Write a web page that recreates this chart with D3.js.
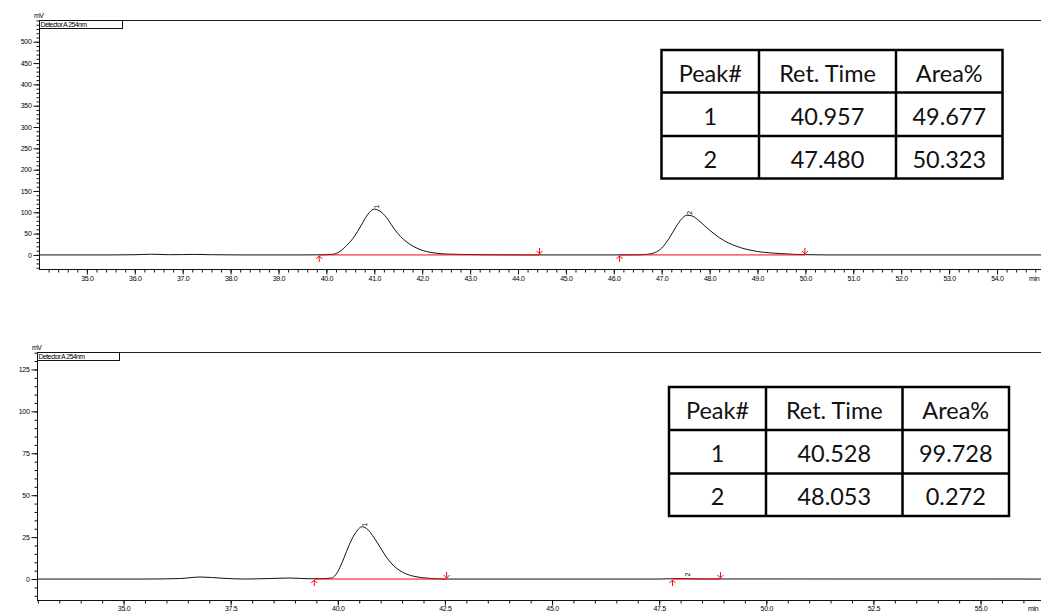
<!DOCTYPE html>
<html><head><meta charset="utf-8">
<script src="https://cdn.jsdelivr.net/npm/d3@7"></script>
<style>
html,body{margin:0;padding:0;background:#fff;overflow:hidden}
svg{display:block}
.tk{font-family:"Liberation Sans",Arial,sans-serif;font-size:7px;fill:#000;letter-spacing:-0.3px}
.tbl{font-family:Lato,"Open Sans",sans-serif;font-size:23.5px;fill:#111}
</style></head>
<body>
<script>
// ---------- DATA ----------
// chromatogram 1 (racemic)
const topTime   = [34.0,35.5,36.0,36.35,36.7,37.0,37.25,37.6,38.2,39.5,39.9,40.14,40.28,40.42,40.55,40.65,40.74,40.81,40.9,41.0,41.1,41.18,41.26,41.35,41.43,41.55,41.68,41.85,42.02,42.2,42.37,42.6,42.79,43.2,44.0,46.0,46.5,46.7,46.85,47.0,47.15,47.3,47.42,47.52,47.62,47.75,47.9,48.1,48.31,48.48,48.65,48.82,49.0,49.25,49.5,49.75,50.0,50.5,55.0];
const topSignal = [0,0,0.5,1.6,0.6,0.8,1.3,0.5,0,0,0.3,1.6,8,22,38,55,72,86,100,107.5,104,97,87,72,59,43,30,18,10,5.5,3,1.8,1.2,0.5,0,0,0.3,1.5,5,16,38,66,85,93,92,83,68,49,33,24,17,12,8,5,3,1.5,0.6,0,0];
const topIntegration = [[39.85,44.45],[46.12,49.99]];
const topYMajor = [0,50,100,150,200,250,300,350,400,450,500];
const topXMajor = [35,36,37,38,39,40,41,42,43,44,45,46,47,48,49,50,51,52,53,54];
const topPeakNo   = ["1","2"];
const topRetTime  = [40.957,47.480];
const topArea     = [49.677,50.323];

// chromatogram 2 (enriched)
const botTime   = [32.98,35.5,36.3,36.8,37.3,37.8,38.4,38.9,39.3,39.6,39.85,39.95,40.05,40.15,40.26,40.4,40.57,40.7,40.85,41.0,41.15,41.3,41.45,41.6,41.8,42.1,42.5,47.5,48.0,48.5,57.2];
const botSignal = [0,0,0.3,1.2,0.5,0,0.3,0.6,0.2,0.2,0.6,2.5,7,13,20,27,31.2,29.5,24.5,18.5,12.5,8,5,3,1.5,0.5,0,0,0.3,0.05,0];
const botIntegration = [[39.45,42.54],[47.81,48.93]];
const botYMajor = [0,25,50,75,100,125];
const botXMajor = [35,37.5,40,42.5,45,47.5,50,52.5,55];
const botPeakNo   = ["1","2"];
const botRetTime  = [40.528,48.053];
const botArea     = [99.728,0.272];

const tableHeader = ["Peak#","Ret. Time","Area%"];
const detectorLabel = "Detector A 254nm";

// ---------- DRAW ----------
const W=1041,H=612;
const svg=d3.select("body").append("svg").attr("width",W).attr("height",H);

function panel(cfg){
  const g=svg.append("g");
  const x=d3.scaleLinear().domain(cfg.xDom).range(cfg.xRange);
  const y=d3.scaleLinear().domain(cfg.yDom).range(cfg.yRange);
  const x0=cfg.xRange[0], yTop=cfg.yRange[1], yBot=cfg.yRange[0];
  g.append("line").attr("x1",x0).attr("x2",W).attr("y1",yTop+0.5).attr("y2",yTop+0.5).attr("stroke","#222").attr("stroke-width",1);
  g.append("rect").attr("x",x0+0.5).attr("y",yTop+0.5).attr("width",cfg.boxW).attr("height",8).attr("fill","#fff").attr("stroke","#111").attr("stroke-width",1);
  g.append("text").attr("class","tk").attr("x",x0+1.5).attr("y",yTop+7).style("letter-spacing","-0.6px").text(detectorLabel);
  g.append("text").attr("class","tk").attr("x",x0-5).attr("y",yTop-2).style("letter-spacing","-0.6px").text("mV");
  // y axis
  const yMinor=d3.range(cfg.yMinorStart, cfg.yDom[1], cfg.yMinorStep);
  const ya=g.append("g").attr("transform",`translate(${x0+0.5},0)`);
  ya.call(d3.axisLeft(y).tickValues(yMinor).tickSize(3).tickFormat(""));
  ya.append("g").call(d3.axisLeft(y).tickValues(cfg.yMajor).tickSize(6).tickPadding(2).tickFormat(d3.format("d")));
  ya.selectAll(".domain").remove();
  ya.append("line").attr("x1",0).attr("x2",0).attr("y1",yTop).attr("y2",yBot+1).attr("stroke","#111");
  ya.selectAll("text").attr("class","tk").attr("font-size",null).attr("font-family",null).attr("fill",null);
  ya.selectAll(".tick line").attr("stroke","#111");
  // x axis
  const xMinor=d3.range(cfg.xMinorStart, cfg.xDom[1]+1e-6, cfg.xMinorStep);
  const xa=g.append("g").attr("transform",`translate(0,${yBot+0.5})`);
  xa.call(d3.axisBottom(x).tickValues(xMinor).tickSize(3).tickFormat(""));
  xa.append("g").call(d3.axisBottom(x).tickValues(cfg.xMajor).tickSize(5).tickPadding(2).tickFormat(d3.format(".1f")));
  xa.selectAll(".domain").remove();
  xa.append("line").attr("x1",x0).attr("x2",W).attr("y1",0).attr("y2",0).attr("stroke","#111");
  xa.selectAll("text").attr("class","tk").attr("font-size",null).attr("font-family",null).attr("fill",null).attr("dy","0.35em").attr("y",cfg.xLabelDy);
  xa.selectAll(".tick line").attr("stroke","#111");
  g.append("text").attr("class","tk").attr("x",cfg.minX).attr("y",yBot+cfg.xLabelDy+3).text("min");
  // signal
  const pts=cfg.time.map((t,i)=>[t,cfg.signal[i]]);
  const line=d3.line().x(d=>x(d[0])).y(d=>y(d[1])).curve(d3.curveMonotoneX);
  g.append("path").attr("d",line(pts)).attr("fill","none").attr("stroke","#111").attr("stroke-width",1);
  // integration baselines & markers
  cfg.integ.forEach(([a,b])=>{
    g.append("line").attr("x1",x(a)).attr("x2",x(b)).attr("y1",y(0)).attr("y2",y(0)).attr("stroke","#f00").attr("stroke-width",1);
    const xa_=x(a), xb_=x(b), y0=y(0);
    g.append("path").attr("d",`M${xa_},${y0+7}V${y0+1}M${xa_-3},${y0+4}L${xa_},${y0+1}L${xa_+3},${y0+4}`).attr("fill","none").attr("stroke","#f00").attr("stroke-width",1);
    g.append("path").attr("d",`M${xb_},${y0-7}V${y0-1}M${xb_-3},${y0-4}L${xb_},${y0-1}L${xb_+3},${y0-4}`).attr("fill","none").attr("stroke","#f00").attr("stroke-width",1);
  });
  // peak labels
  const interp=(t)=>{const i=d3.bisectLeft(cfg.time,t);if(i<=0)return cfg.signal[0];const t0=cfg.time[i-1],t1=cfg.time[i];return cfg.signal[i-1]+(cfg.signal[i]-cfg.signal[i-1])*(t-t0)/(t1-t0);};
  cfg.peakNo.forEach((p,i)=>{
    const px=x(cfg.rt[i])+7, py=y(interp(cfg.rt[i]))-2;
    g.append("text").attr("class","tk").attr("transform",`translate(${px},${py}) rotate(-90)`).text(p);
  });
  // table
  const tb=cfg.table;
  const tg=g.append("g");
  const colX=tb.cols, rowY=tb.rows;
  const rowsData=[tableHeader].concat(cfg.peakNo.map((p,i)=>[p,cfg.rt[i].toFixed(3),cfg.area[i].toFixed(3)]));
  tg.append("rect").attr("x",colX[0]).attr("y",rowY[0]).attr("width",colX[3]-colX[0]).attr("height",rowY[3]-rowY[0]).attr("fill","#fff").attr("stroke","#000").attr("stroke-width",2.5);
  [1,2].forEach(c=>tg.append("line").attr("x1",colX[c]).attr("x2",colX[c]).attr("y1",rowY[0]).attr("y2",rowY[3]).attr("stroke","#000").attr("stroke-width",2.5));
  [1,2].forEach(r=>tg.append("line").attr("x1",colX[0]).attr("x2",colX[3]).attr("y1",rowY[r]).attr("y2",rowY[r]).attr("stroke","#000").attr("stroke-width",2.5));
  rowsData.forEach((row,r)=>row.forEach((txt,c)=>{
    tg.append("text").attr("class","tbl").attr("x",(colX[c]+colX[c+1])/2).attr("y",(rowY[r]+rowY[r+1])/2+1.5)
      .attr("text-anchor","middle").attr("dominant-baseline","central").text(txt);
  }));
}

panel({xDom:[34,55],xRange:[39,39+21*47.9],yDom:[-33,551],yRange:[269,20],
  yMajor:topYMajor,yMinorStart:-30,yMinorStep:10,xMajor:topXMajor,xMinorStart:34.2,xMinorStep:0.2,
  xLabelDy:9,minX:1029,boxW:83,time:topTime,signal:topSignal,integ:topIntegration,
  peakNo:topPeakNo,rt:topRetTime,area:topArea,
  table:{cols:[661.5,759,896,1002.5],rows:[50,92.5,136,178.5]}});

panel({xDom:[32.98,57.2],xRange:[37,37+24.22*42.85],yDom:[-12.5,135.4],yRange:[600,352],
  yMajor:botYMajor,yMinorStart:-10,yMinorStep:5,xMajor:botXMajor,xMinorStart:33,xMinorStep:0.5,
  xLabelDy:8,minX:1028,boxW:82,time:botTime,signal:botSignal,integ:botIntegration,
  peakNo:botPeakNo,rt:botRetTime,area:botArea,
  table:{cols:[669,766,902.5,1009],rows:[387,430,473.5,516]}});
</script>
</body></html>
